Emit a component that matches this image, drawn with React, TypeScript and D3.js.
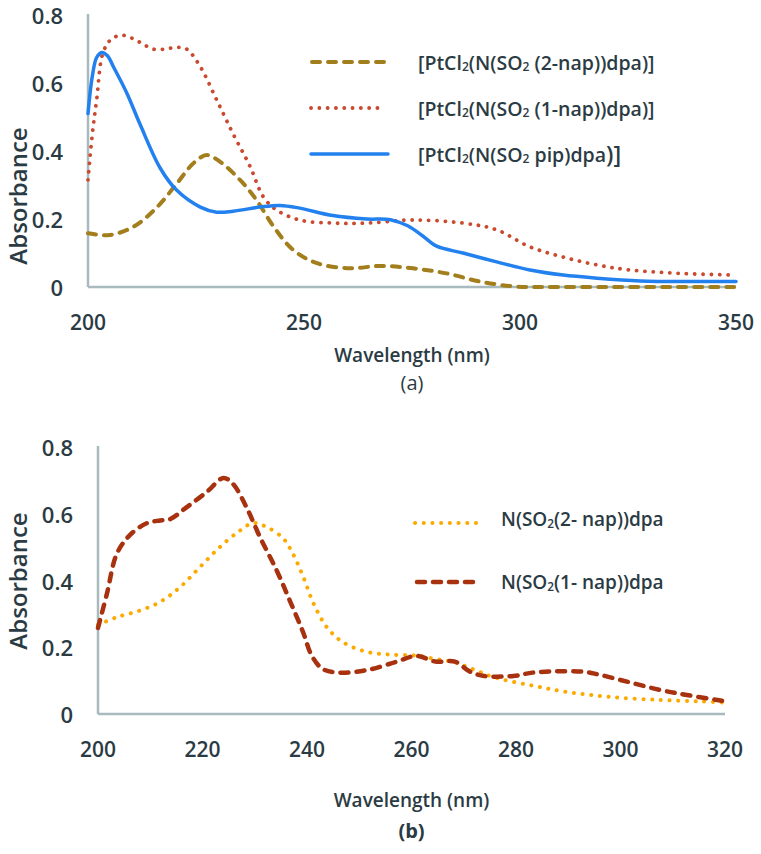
import React from 'react';
import * as d3 from 'd3';

// ---------- Data: panel (a) ----------
const aTicksX = [200, 250, 300, 350];
const aTicksY = [0, 0.2, 0.4, 0.6, 0.8];

const nap2Wl = [200, 205, 210.5, 216, 220.6, 224.4, 227.5, 230.6, 235.2, 239, 243, 247.5, 253, 260.6, 267.6, 275.2, 283, 290.7, 298.4, 305, 320, 335, 350];
const nap2Abs = [0.158, 0.153, 0.177, 0.235, 0.305, 0.364, 0.388, 0.368, 0.315, 0.256, 0.177, 0.109, 0.07, 0.055, 0.062, 0.055, 0.04, 0.016, 0.002, 0, 0, 0, 0];

const nap1Wl = [200, 201, 202, 203.5, 205.5, 208.2, 212, 215, 218, 220.5, 222.8, 225.9, 229.8, 233.6, 237.5, 240.6, 243.7, 249, 256.7, 264.5, 275, 286.8, 294.6, 302.3, 310, 317.8, 325.5, 337, 350];
const nap1Abs = [0.315, 0.45, 0.55, 0.69, 0.73, 0.74, 0.72, 0.7, 0.7, 0.705, 0.7, 0.65, 0.55, 0.45, 0.355, 0.265, 0.226, 0.197, 0.188, 0.188, 0.197, 0.188, 0.168, 0.118, 0.088, 0.065, 0.05, 0.04, 0.035];

const pipWl = [200, 201, 202, 203.2, 204.5, 206, 209, 212, 216.7, 220.5, 226, 229.8, 233.6, 239.8, 244.4, 249, 256.7, 264.5, 270, 274, 277.5, 280.7, 286.8, 294.6, 302.3, 310, 317.8, 327.8, 340, 350];
const pipAbs = [0.51, 0.62, 0.675, 0.69, 0.68, 0.645, 0.57, 0.48, 0.35, 0.285, 0.235, 0.22, 0.223, 0.235, 0.24, 0.232, 0.21, 0.2, 0.198, 0.18, 0.15, 0.12, 0.1, 0.074, 0.05, 0.035, 0.026, 0.018, 0.016, 0.016];

// ---------- Data: panel (b) ----------
const bTicksX = [200, 220, 240, 260, 280, 300, 320];
const bTicksY = [0, 0.2, 0.4, 0.6, 0.8];

const lig2Wl = [200, 203.6, 208, 211.9, 215.7, 219.5, 223.3, 227.2, 229.7, 232.3, 235.4, 237.3, 239.3, 241.2, 243.8, 246.9, 251.5, 256, 260.9, 264.5, 268.3, 272.1, 275.8, 283.2, 289.8, 298, 307.6, 315.2, 320];
const lig2Abs = [0.267, 0.29, 0.31, 0.336, 0.38, 0.44, 0.5, 0.55, 0.572, 0.56, 0.527, 0.48, 0.41, 0.333, 0.26, 0.215, 0.186, 0.178, 0.175, 0.165, 0.155, 0.132, 0.11, 0.085, 0.066, 0.051, 0.042, 0.038, 0.034];

const lig1Wl = [200, 201.7, 203.6, 206.1, 209.4, 211.9, 213.8, 217, 220.8, 224, 225.8, 228.4, 231, 234.2, 236.7, 239.3, 240.9, 243, 246, 251.6, 257.2, 260.9, 264.6, 268.3, 271.2, 273.9, 279.5, 283.2, 288, 292.6, 295.3, 300, 307.6, 312.7, 318.5, 320];
const lig1Abs = [0.258, 0.36, 0.48, 0.536, 0.572, 0.58, 0.584, 0.62, 0.665, 0.707, 0.69, 0.62, 0.53, 0.43, 0.34, 0.243, 0.175, 0.135, 0.124, 0.132, 0.157, 0.174, 0.157, 0.157, 0.127, 0.114, 0.114, 0.124, 0.128, 0.127, 0.12, 0.102, 0.072, 0.057, 0.042, 0.038];

const TEXT = '#2b3b43';
const AXIS = '#a9babe';
const FONT = '"Open Sans", sans-serif';

const fmtY = (t: number) => (t === 0 ? '0' : t.toFixed(1));

type Series = { wl: number[]; abs: number[]; color: string; width: number; dash?: string };

function Panel(props: {
  x0: number; x1: number; y0: number; y1: number;
  domainX: [number, number]; ticksX: number[]; ticksY: number[];
  series: Series[];
  yLabelRight: number; xLabelY: number; yTitleX: number; yTitleY: number;
  xTitleY: number; tagY: number; tag: string; tagBold: boolean;
}) {
  const { x0, x1, y0, y1, domainX, ticksX, ticksY, series } = props;
  const x = d3.scaleLinear().domain(domainX).range([x0, x1]);
  const y = d3.scaleLinear().domain([0, 0.8]).range([y0, y1]);
  const line = (s: Series) =>
    d3.line<number>()
      .x((_, i) => x(s.wl[i]))
      .y((_, i) => y(s.abs[i]))
      .curve(d3.curveCatmullRom.alpha(0.5))(s.abs) || '';
  const cx = (x0 + x1) / 2;
  return (
    <g>
      <line x1={x0} y1={y(0.8) - 1} x2={x0} y2={y0} stroke={AXIS} strokeWidth={2.5} />
      <line x1={x0} y1={y0} x2={x1} y2={y0} stroke={AXIS} strokeWidth={2.5} />
      {series.map((s, i) => (
        <path key={i} d={line(s)} fill="none" stroke={s.color} strokeWidth={s.width}
          strokeDasharray={s.dash} strokeLinecap="round" strokeLinejoin="round" />
      ))}
      {ticksY.map((t) => (
        <text key={'y' + t} x={props.yLabelRight} y={y(t)} textAnchor="end" dominantBaseline="central"
          fontSize={22} fontWeight={600} fill={TEXT} fontFamily={FONT}>{fmtY(t)}</text>
      ))}
      {ticksX.map((t) => (
        <text key={'x' + t} x={x(t)} y={props.xLabelY} textAnchor="middle" dominantBaseline="central"
          fontSize={21} fontWeight={600} fill={TEXT} fontFamily={FONT}>{t}</text>
      ))}
      <text transform={`translate(${props.yTitleX},${props.yTitleY}) rotate(-90)`} textAnchor="middle"
        dominantBaseline="central" fontSize={24} fontWeight={600} fill={TEXT} fontFamily={FONT}>Absorbance</text>
      <text x={cx} y={props.xTitleY} textAnchor="middle" dominantBaseline="central" fontSize={19}
        fontWeight={600} fill={TEXT} fontFamily={FONT}>Wavelength (nm)</text>
      <text x={cx} y={props.tagY} textAnchor="middle" dominantBaseline="central" fontSize={20}
        fontWeight={props.tagBold ? 'bold' : 400} fill={TEXT} fontFamily={FONT}>{props.tag}</text>
    </g>
  );
}

const Sub = ({ children }: { children: string }) => (
  <tspan fontSize="0.62em" dy="4">{children}</tspan>
);

export default function App() {
  const seriesA: Series[] = [
    { wl: nap2Wl, abs: nap2Abs, color: '#a27e1c', width: 4, dash: '8 8' },
    { wl: nap1Wl, abs: nap1Abs, color: '#c94a2e', width: 3.8, dash: '0.1 8.2' },
    { wl: pipWl, abs: pipAbs, color: '#2281ee', width: 3.5 },
  ];
  const seriesB: Series[] = [
    { wl: lig2Wl, abs: lig2Abs, color: '#fbaa00', width: 4, dash: '0.1 8.6' },
    { wl: lig1Wl, abs: lig1Abs, color: '#a8310f', width: 4.5, dash: '8 8' },
  ];
  return (
    <svg width={761} height={854} style={{ position: 'absolute', left: 0, top: 0, background: '#fff' }}>
      <rect width={761} height={854} fill="#fff" />
      <Panel x0={88} x1={736} y0={287} y1={15} domainX={[200, 350]} ticksX={aTicksX} ticksY={aTicksY}
        series={seriesA} yLabelRight={63} xLabelY={322} yTitleX={17} yTitleY={196}
        xTitleY={355} tagY={382} tag="(a)" tagBold={false} />
      <Panel x0={98} x1={725} y0={714} y1={447} domainX={[200, 320]} ticksX={bTicksX} ticksY={bTicksY}
        series={seriesB} yLabelRight={73} xLabelY={749} yTitleX={17} yTitleY={581}
        xTitleY={800} tagY={830} tag="(b)" tagBold={true} />

      {/* Legend (a) */}
      <g fontFamily={FONT} fill={TEXT} fontSize={19.5} fontWeight={600}>
        <line x1={312} x2={387} y1={62} y2={62} stroke="#a27e1c" strokeWidth={4} strokeDasharray="8 8" strokeLinecap="round" />
        <line x1={311} x2={383} y1={108} y2={108} stroke="#c94a2e" strokeWidth={3.8} strokeDasharray="0.1 8.2" strokeLinecap="round" />
        <line x1={311} x2={388} y1={154} y2={154} stroke="#2281ee" strokeWidth={3.5} strokeLinecap="round" />
        <text x={418} y={62} dominantBaseline="central">[PtCl<Sub>2</Sub><tspan dy="-4">(N(SO</tspan><Sub>2</Sub><tspan dy="-4"> (2-nap))dpa)]</tspan></text>
        <text x={418} y={108} dominantBaseline="central">[PtCl<Sub>2</Sub><tspan dy="-4">(N(SO</tspan><Sub>2</Sub><tspan dy="-4"> (1-nap))dpa)]</tspan></text>
        <text x={418} y={154} dominantBaseline="central">[PtCl<Sub>2</Sub><tspan dy="-4">(N(SO</tspan><Sub>2</Sub><tspan dy="-4"> pip)dpa</tspan><tspan fontSize="1.2em">)]</tspan></text>
      </g>

      {/* Legend (b) */}
      <g fontFamily={FONT} fill={TEXT} fontSize={19} fontWeight={600}>
        <line x1={415} x2={478} y1={523} y2={523} stroke="#fbaa00" strokeWidth={4} strokeDasharray="0.1 8.6" strokeLinecap="round" />
        <line x1={417} x2={477} y1={582} y2={582} stroke="#a8310f" strokeWidth={4.5} strokeDasharray="8 8" strokeLinecap="round" />
        <text x={501} y={519} dominantBaseline="central">N(SO<Sub>2</Sub><tspan dy="-4">(2- nap))dpa</tspan></text>
        <text x={501} y={582} dominantBaseline="central">N(SO<Sub>2</Sub><tspan dy="-4">(1- nap))dpa</tspan></text>
      </g>
    </svg>
  );
}
